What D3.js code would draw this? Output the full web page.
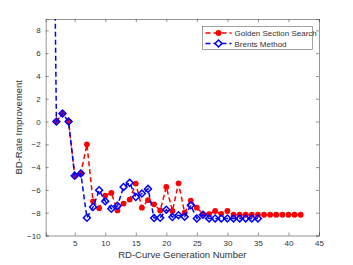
<!DOCTYPE html>
<html>
<head>
<meta charset="utf-8">
<script src="https://cdn.jsdelivr.net/npm/d3@7"></script>
<style>
  body { margin: 0; background: #fff; }
  svg { display: block; font-family: "Liberation Sans", Arial, sans-serif; }
</style>
</head>
<body>
<svg class="main-chart" width="353" height="265"></svg>
<script>
// values
var goldenX = [2, 3, 4, 5, 6, 7, 8, 9, 10, 11, 12, 13, 14, 15, 16, 17, 18, 19, 20, 21, 22,
  23, 24, 25, 26, 27, 28, 29, 30, 31, 32, 33, 34, 35, 36, 37, 38, 39, 40, 41, 42];
var goldenY = [0, 0.7, 0, -4.76, -4.56, -2.0, -7.0, -7.6, -6.5, -6.26, -7.8, -7.2, -6.85, -5.44,
  -7.56, -6.9, -7.26, -7.8, -5.74, -7.85, -5.42, -8.0, -6.94, -7.56, -8.12, -8.12, -7.85, -8.1,
  -7.85, -8.18, -8.18, -8.18, -8.18, -8.18, -8.18, -8.18, -8.18, -8.18, -8.18, -8.18, -8.18];
var brentX = [1, 2, 3, 4, 5, 6, 7, 8, 9, 10, 11, 12, 13, 14, 15, 16, 17, 18,
  19, 20, 21, 22, 23, 24, 25, 26, 27, 28, 29, 30, 31, 32, 33, 34, 35];
var brentY = [50, 0, 0.7, 0, -4.76, -4.56, -8.44, -7.5, -6.03, -7.0, -7.65, -7.4, -5.74, -5.38,
  -6.62, -6.32, -5.91, -8.47, -8.44, -7.74, -8.38, -8.22, -8.35, -7.35, -8.5, -8.18,
  -8.5, -8.5, -8.5, -8.5, -8.5, -8.5, -8.5, -8.5, -8.5];
var xTicks = [5, 10, 15, 20, 25, 30, 35, 40, 45];
var yTicks = [-10, -8, -6, -4, -2, 0, 2, 4, 6, 8];
var seriesNames = ["Golden Section Search", "Brents Method"];

var golden = goldenX.map((x, i) => ({x: x, y: goldenY[i]}));
var brent = brentX.map((x, i) => ({x: x, y: brentY[i]}));

////////////////////////////////////////////////////////////////
// scales + axes
////////////////////////////////////////////////////////////////
var boxLeft = 45.7, boxRight = 319, boxTop = 19, boxBottom = 235.5;
var xScale = d3.scaleLinear().domain([0.25, 45]).range([boxLeft, boxRight]);
var yScale = d3.scaleLinear().domain([-10, 9]).range([boxBottom, boxTop]);

var svg = d3.select("svg.main-chart");
var axisColor = "#4d4d4d";

svg.append("defs").append("clipPath").attr("id", "plotClip")
  .append("rect")
  .attr("x", boxLeft).attr("y", boxTop)
  .attr("width", boxRight - boxLeft).attr("height", boxBottom - boxTop);

var xAxis = d3.axisBottom(xScale).tickValues(xTicks).tickSize(-3).tickPadding(5);
var yAxis = d3.axisLeft(yScale).tickValues(yTicks).tickSize(-3).tickPadding(5);
var xAxisTop = d3.axisTop(xScale).tickValues(xTicks).tickSize(-3).tickFormat("");
var yAxisRight = d3.axisRight(yScale).tickValues(yTicks).tickSize(-3).tickFormat("");

svg.append("g").attr("class", "ax").attr("transform", "translate(0," + boxBottom + ")").call(xAxis);
svg.append("g").attr("class", "ax").attr("transform", "translate(" + boxLeft + ",0)").call(yAxis);
svg.append("g").attr("class", "ax").attr("transform", "translate(0," + boxTop + ")").call(xAxisTop);
svg.append("g").attr("class", "ax").attr("transform", "translate(" + boxRight + ",0)").call(yAxisRight);

svg.selectAll("g.ax path, g.ax line")
  .attr("stroke", axisColor)
  .attr("stroke-width", 0.6);
svg.selectAll("g.ax text")
  .attr("fill", "#333")
  .style("font-size", "8px");

svg.append("text")
  .text("RD-Curve Generation Number")
  .attr("x", (boxLeft + boxRight) / 2)
  .attr("y", 258)
  .attr("text-anchor", "middle")
  .attr("fill", "#333")
  .style("font-size", "9.5px");

svg.append("text")
  .text("BD-Rate Improvement")
  .attr("text-anchor", "middle")
  .attr("fill", "#333")
  .style("font-size", "9.5px")
  .attr("transform", "translate(22," + (boxTop + boxBottom) / 2 + ")rotate(-90)");

////////////////////////////////////////////////////////////////
// series
////////////////////////////////////////////////////////////////
var line = d3.line().x(d => xScale(d.x)).y(d => yScale(d.y));
var plot = svg.append("g").attr("clip-path", "url(#plotClip)");
// MATLAB style diamond: square turned 45 degrees
var diamond = d3.symbol().type(d3.symbolSquare).size(24);

plot.append("path")
  .datum(golden)
  .attr("d", line)
  .attr("fill", "none")
  .attr("stroke", "#ff0000")
  .attr("stroke-width", 1.5)
  .attr("stroke-dasharray", "5,3");

plot.selectAll("circle.golden")
  .data(golden)
  .enter()
  .append("circle")
  .attr("class", "golden")
  .attr("cx", d => xScale(d.x))
  .attr("cy", d => yScale(d.y))
  .attr("r", 2.9)
  .attr("fill", "#ff0000");

plot.append("path")
  .datum(brent)
  .attr("d", line)
  .attr("fill", "none")
  .attr("stroke", "#0000ff")
  .attr("stroke-width", 1.5)
  .attr("stroke-dasharray", "5,3");

plot.selectAll("path.brent")
  .data(brent)
  .enter()
  .append("path")
  .attr("class", "brent")
  .attr("d", diamond)
  .attr("transform", d => "translate(" + xScale(d.x) + "," + yScale(d.y) + ")rotate(45)")
  .attr("fill", "none")
  .attr("stroke", "#0000ff")
  .attr("stroke-width", 1.5);

////////////////////////////////////////////////////////////////
// legend
////////////////////////////////////////////////////////////////
var legend = svg.append("g").attr("transform", "translate(202.5,26.5)");
legend.append("rect")
  .attr("width", 110).attr("height", 23)
  .attr("fill", "#fff")
  .attr("stroke", "#666")
  .attr("stroke-width", 0.6);

var colors = ["#ff0000", "#0000ff"];
seriesNames.forEach(function(name, i) {
  var y = 6.5 + i * 10.5;
  legend.append("line")
    .attr("x1", 3).attr("x2", 29).attr("y1", y).attr("y2", y)
    .attr("stroke", colors[i])
    .attr("stroke-width", 1.5)
    .attr("stroke-dasharray", "5,3");
  if (i == 0) {
    legend.append("circle").attr("cx", 16).attr("cy", y).attr("r", 2.9).attr("fill", colors[i]);
  } else {
    legend.append("path").attr("d", diamond)
      .attr("transform", "translate(16," + y + ")rotate(45)")
      .attr("fill", "#fff")
      .attr("stroke", colors[i])
      .attr("stroke-width", 1.5);
  }
  legend.append("text")
    .text(name)
    .attr("x", 32)
    .attr("y", y + 3)
    .attr("fill", "#333")
    .style("font-size", "8px");
});
</script>
</body>
</html>
